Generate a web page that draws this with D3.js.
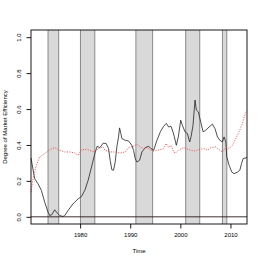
<!DOCTYPE html>
<html>
<head>
<meta charset="utf-8">
<script src="https://cdn.jsdelivr.net/npm/d3@7"></script>
<style>
  body { margin: 0; background: #fff; }
  svg text { font-family: "Liberation Sans", Arial, sans-serif; fill: #000; }
</style>
</head>
<body>
<div id="chart"></div>
<script>
/* ── data ─────────────────────────────────────────────────── */
const bandStart = [1973.6, 1980.07, 1991.13, 2001.07, 2008.4];
const bandEnd   = [1975.73, 1982.93, 1994.47, 2003.87, 2009.27];

const blackYears = [1970.2, 1970.93, 1971.6, 1972.27, 1972.93, 1973.6, 1973.93, 1974.4, 1974.93, 1975.47,
  1975.93, 1976.6, 1976.93, 1977.6, 1978.6, 1979.6, 1980.27, 1980.93, 1981.6, 1982.27,
  1982.93, 1983.4, 1983.93, 1984.6, 1985.2, 1985.67, 1986, 1986.33, 1986.67, 1987,
  1987.33, 1987.67, 1987.87, 1988.13, 1988.33, 1989, 1989.67, 1990.33, 1990.67, 1991,
  1991.33, 1991.87, 1992.33, 1993, 1993.67, 1994.13, 1994.67, 1995.33, 1996, 1996.67,
  1997.2, 1997.67, 1998.13, 1998.53, 1998.8, 1999.2, 1999.6, 2000.07, 2000.4, 2000.93,
  2001.4, 2001.87, 2002.13, 2002.53, 2002.93, 2003.2, 2003.6, 2004.07, 2004.53, 2005.07,
  2005.73, 2006.4, 2006.93, 2007.4, 2007.87, 2008.4, 2008.73, 2009.07, 2009.27, 2009.73,
  2010.27, 2010.73, 2011.4, 2011.87, 2012.2, 2012.53, 2013.3];
const blackValues = [0.327, 0.212, 0.184, 0.147, 0.082, 0.026, 0.007, 0.013, 0.039, 0.02,
  0.007, 0.002, 0.007, 0.035, 0.073, 0.1, 0.113, 0.147, 0.203, 0.277,
  0.352, 0.393, 0.385, 0.41, 0.408, 0.38, 0.315, 0.262, 0.259, 0.305,
  0.389, 0.445, 0.495, 0.464, 0.436, 0.426, 0.422, 0.398, 0.37, 0.324,
  0.305, 0.315, 0.361, 0.385, 0.393, 0.38, 0.37, 0.426, 0.473, 0.504,
  0.52, 0.5, 0.504, 0.473, 0.445, 0.398, 0.445, 0.538, 0.51, 0.473,
  0.464, 0.417, 0.445, 0.51, 0.65, 0.594, 0.584, 0.528, 0.473, 0.482,
  0.5, 0.516, 0.49, 0.445, 0.426, 0.417, 0.445, 0.417, 0.333, 0.287,
  0.249, 0.24, 0.249, 0.259, 0.296, 0.324, 0.33];

const redYears = [1970.2, 1970.6, 1971.27, 1971.93, 1972.93, 1973.93, 1974.93, 1975.93, 1976.93, 1977.93,
  1978.93, 1979.6, 1980.27, 1981.27, 1982.27, 1982.93, 1983.6, 1984.6, 1985, 1986,
  1987, 1988, 1989, 1989.67, 1990.67, 1991.33, 1992, 1992.67, 1993.33, 1994,
  1994.67, 1995.33, 1996, 1996.67, 1997.2, 1997.67, 1998.13, 1998.67, 1999.07, 1999.73,
  2000.73, 2001.73, 2002.73, 2003.73, 2004.73, 2005.4, 2006.07, 2007.07, 2007.73, 2008.4,
  2009.07, 2009.73, 2010.4, 2011.07, 2011.73, 2012.4, 2012.93, 2013.3];
const redValues = [0.137, 0.212, 0.287, 0.333, 0.352, 0.374, 0.385, 0.37, 0.361, 0.361,
  0.355, 0.342, 0.374, 0.376, 0.366, 0.361, 0.38, 0.39, 0.37, 0.361,
  0.361, 0.355, 0.361, 0.385, 0.393, 0.404, 0.389, 0.38, 0.385, 0.374,
  0.366, 0.37, 0.374, 0.38, 0.408, 0.385, 0.398, 0.361, 0.355, 0.374,
  0.385, 0.374, 0.366, 0.374, 0.38, 0.37, 0.385, 0.389, 0.374, 0.361,
  0.385, 0.38, 0.398, 0.436, 0.473, 0.52, 0.575, 0.59];

const xTicks = [1980, 1990, 2000, 2010];
const yTicks = [0, 0.2, 0.4, 0.6, 0.8, 1.0];

/* ── layout ───────────────────────────────────────────────── */
const W = 262, H = 262;
const ML = 31, MR = 15, MT = 30, MB = 38;

const svg = d3.select('#chart').append('svg')
  .attr('width', W).attr('height', H);

const x = d3.scaleLinear().domain([1970.2, 2013.3]).range([ML, W - MR]);
const y = d3.scaleLinear().domain([-0.04, 1.04]).range([H - MB, MT]);

const blackData = blackYears.map((t, i) => ({ t, v: blackValues[i] }));
const redData   = redYears.map((t, i) => ({ t, v: redValues[i] }));
const bands     = bandStart.map((s, i) => ({ s, e: bandEnd[i] }));

// recession bands
const bandG = svg.append('g');
bandG.selectAll('rect').data(bands).join('rect')
  .attr('x', d => x(d.s)).attr('width', d => x(d.e) - x(d.s))
  .attr('y', MT).attr('height', H - MB - MT)
  .attr('fill', '#d9d9d9');
bandG.selectAll('line').data(bands.flatMap(d => [d.s, d.e])).join('line')
  .attr('x1', d => x(d)).attr('x2', d => x(d))
  .attr('y1', MT).attr('y2', H - MB)
  .attr('stroke', '#8a8a8a').attr('stroke-width', 1);

// series
const line = d3.line().x(d => x(d.t)).y(d => y(d.v));

svg.append('path').datum(blackData)
  .attr('d', line).attr('fill', 'none')
  .attr('stroke', '#222').attr('stroke-width', 0.8);

svg.append('path').datum(redData)
  .attr('d', line).attr('fill', 'none')
  .attr('stroke', '#ff3030').attr('stroke-width', 0.9)
  .attr('stroke-dasharray', '1,1.5');

// horizontal reference at zero
svg.append('line')
  .attr('x1', ML).attr('x2', W - MR)
  .attr('y1', y(0)).attr('y2', y(0))
  .attr('stroke', '#2a1a1a').attr('stroke-width', 0.9);

// box
svg.append('rect')
  .attr('x', ML).attr('y', MT)
  .attr('width', W - MR - ML).attr('height', H - MB - MT)
  .attr('fill', 'none').attr('stroke', '#000').attr('stroke-width', 0.9);

// axes
const xAxisG = svg.append('g')
  .attr('transform', `translate(0,${H - MB})`)
  .call(d3.axisBottom(x).tickValues(xTicks).tickFormat(d3.format('d'))
    .tickSize(4.5).tickPadding(4));
xAxisG.select('.domain').remove();
xAxisG.selectAll('.tick line').attr('stroke', '#000').attr('stroke-width', 0.9);
xAxisG.selectAll('.tick text').attr('font-size', 6).attr('font-family', null);

const yAxisG = svg.append('g')
  .attr('transform', `translate(${ML},0)`)
  .call(d3.axisLeft(y).tickValues(yTicks).tickFormat(d3.format('.1f')).tickSize(4.5));
yAxisG.select('.domain').remove();
yAxisG.selectAll('.tick line').attr('stroke', '#000').attr('stroke-width', 0.9);
yAxisG.selectAll('.tick text')
  .attr('font-size', 6).attr('font-family', null)
  .attr('x', null).attr('dy', null)
  .attr('text-anchor', 'middle')
  .attr('transform', `translate(-10,0) rotate(-90)`);

// axis titles
svg.append('text')
  .attr('x', (ML + W - MR) / 2).attr('y', 252.5)
  .attr('text-anchor', 'middle').attr('font-size', 6)
  .text('Time');

svg.append('text')
  .attr('transform', `translate(7.3,${(MT + H - MB) / 2}) rotate(-90)`)
  .attr('text-anchor', 'middle').attr('font-size', 6)
  .text('Degree of Market Efficiency');
</script>
</body>
</html>
